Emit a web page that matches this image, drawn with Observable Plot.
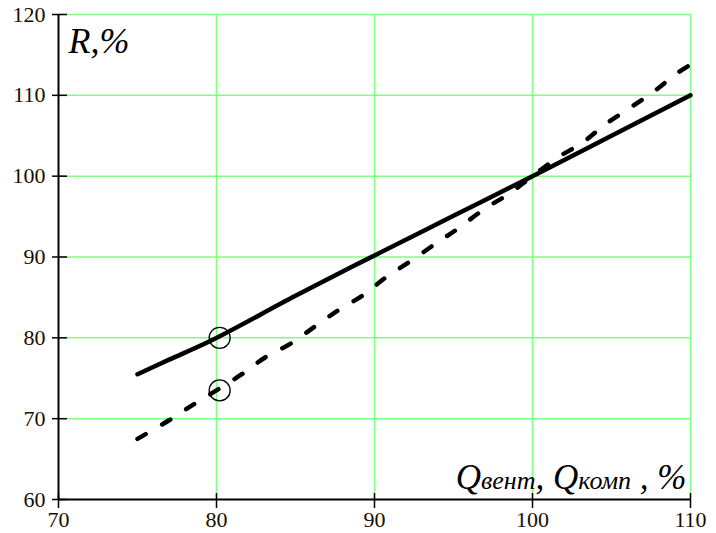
<!DOCTYPE html>
<html>
<head>
<meta charset="utf-8">
<script src="https://cdn.jsdelivr.net/npm/d3@7"></script>
<script src="https://cdn.jsdelivr.net/npm/@observablehq/plot@0.6"></script>
<style>
  html, body { margin: 0; padding: 0; background: #fff; }
</style>
</head>
<body>
<div id="chart"></div>
<script>
// Tick values on both axes
const xTicks = [70, 80, 90, 100, 110];
const yTicks = [60, 70, 80, 90, 100, 110, 120];

// Fan curve: R (%) versus Q (%)
const qFan = [75, 77, 79.7, 85, 90, 95, 100, 105, 110];
const rFan = [75.5, 77.3, 79.7, 85.2, 90.2, 95.1, 100, 105.0, 110.0];

// Compressor curve: R (%) versus Q (%)
const qComp = [75, 77, 78.5, 80, 81.6, 83.1, 84.7, 86.3, 87.7, 89.3, 90.8, 92.3, 93.9, 95.2, 97.0, 98.5, 100, 101.6, 103.2, 104.6, 106.2, 107.7, 109.2, 110];
const rComp = [67.5, 69.8, 71.7, 73.5, 75.5, 77.6, 79.3, 81.5, 83.4, 85.3, 87.6, 89.5, 91.7, 93.4, 96.0, 97.8, 100, 102.3, 104.2, 106.4, 108.5, 110.5, 112.8, 113.8];

// Marked operating points
const markQ = [80.2, 80.2];
const markR = [80, 73.5];

const fan = qFan.map((q, i) => ({q, r: rFan[i]}));
const comp = qComp.map((q, i) => ({q, r: rComp[i]}));
const marks = markQ.map((q, i) => ({q, r: markR[i]}));

const green = "#80ff80";
const serif = "'Liberation Serif', 'Times New Roman', serif";

const chart = Plot.plot({
  width: 716,
  height: 533,
  marginLeft: 58,
  marginRight: 26,
  marginTop: 14,
  marginBottom: 34,
  style: {fontFamily: serif, fontSize: "22px", color: "#000", background: "#fff"},
  x: {domain: [70, 110]},
  y: {domain: [60, 120]},
  marks: [
    // green grid
    Plot.ruleY(yTicks.filter(d => d > 60), {y: d => d, stroke: green, strokeWidth: 1.5}),
    Plot.ruleX(xTicks.filter(d => d > 70), {x: d => d, stroke: green, strokeWidth: 1.5}),
    // axis lines
    Plot.ruleX([70], {stroke: "#000", strokeWidth: 2}),
    Plot.ruleY([60], {stroke: "#000", strokeWidth: 2}),
    // ticks crossing the axis lines
    Plot.ruleY(yTicks, {y: d => d, x1: 70, x2: 70, insetLeft: -6, insetRight: -9, stroke: "#000", strokeWidth: 1.5}),
    Plot.ruleX(xTicks, {x: d => d, y1: 60, y2: 60, insetTop: -6, insetBottom: -9, stroke: "#000", strokeWidth: 1.5}),
    // tick labels
    Plot.axisX({ticks: xTicks, tickSize: 0, tickPadding: 12, label: null, fontSize: 22, fill: "#1a0d00"}),
    Plot.axisY({ticks: yTicks, tickSize: 0, tickPadding: 13, label: null, fontSize: 22, fill: "#1a0d00"}),
    // curves
    Plot.line(fan, {x: "q", y: "r", curve: "catmull-rom", stroke: "#000", strokeWidth: 4.5, strokeLinecap: "round"}),
    Plot.line(comp, {x: "q", y: "r", curve: "catmull-rom", stroke: "#000", strokeWidth: 4.5, strokeLinecap: "round", strokeDasharray: "9.5,19"}),
    Plot.dot(marks, {x: "q", y: "r", r: 10.5, stroke: "#000", strokeWidth: 1.3, fill: "none"}),
    // axis titles
    Plot.text(["R,%"], {x: 70, y: 120, text: d => d, textAnchor: "start", lineAnchor: "top", dx: 10, dy: 13, fontSize: 36, fontStyle: "italic"}),
    Plot.text(["Q"], {x: 110, y: 60, text: d => d, textAnchor: "end", lineAnchor: "bottom", dx: -4, dy: -11, fontSize: 35, fontStyle: "italic", className: "xtitle"})
  ]
});

// x title with smaller lowercase subscripts
d3.select(chart).selectAll(".xtitle text").each(function () {
  const t = d3.select(this);
  t.text(null);
  const parts = [["Q", 35], ["вент", 26], [", ", 35], ["Q", 35], ["комп", 26], [" , %", 35]];
  for (const [s, size] of parts) t.append("tspan").style("font-size", size + "px").text(s);
});

document.getElementById("chart").appendChild(chart);
</script>
</body>
</html>
